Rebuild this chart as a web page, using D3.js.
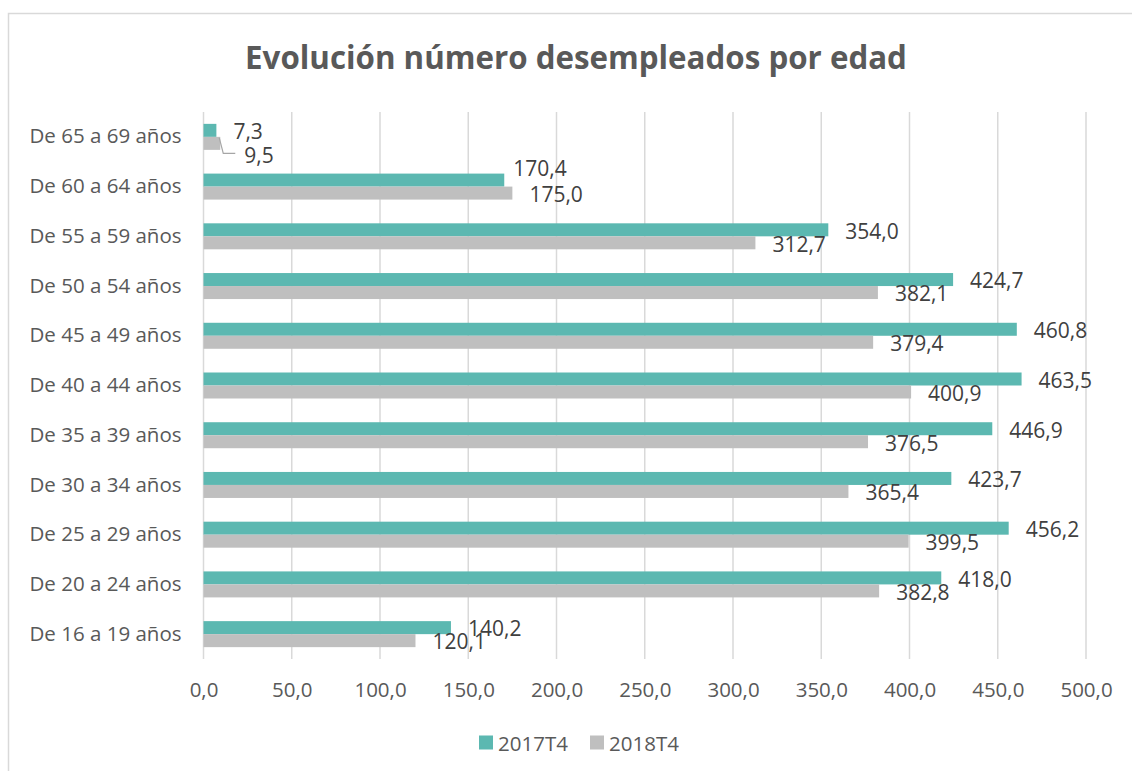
<!DOCTYPE html>
<html>
<head>
<meta charset="utf-8">
<script src="https://cdn.jsdelivr.net/npm/d3@7"></script>
<style>
  body { margin: 0; background: #fff; }
  text { font-family: "Open Sans", "Noto Sans", sans-serif; }
</style>
</head>
<body>
<svg id="drawing_region"></svg>
<script>
const categories = ["De 65 a 69 años", "De 60 a 64 años", "De 55 a 59 años", "De 50 a 54 años",
    "De 45 a 49 años", "De 40 a 44 años", "De 35 a 39 años", "De 30 a 34 años",
    "De 25 a 29 años", "De 20 a 24 años", "De 16 a 19 años"];
const series = ["2017T4", "2018T4"];
const values2017 = [7.3, 170.4, 354.0, 424.7, 460.8, 463.5, 446.9, 423.7, 456.2, 418.0, 140.2];
const values2018 = [9.5, 175.0, 312.7, 382.1, 379.4, 400.9, 376.5, 365.4, 399.5, 382.8, 120.1];
const xticks = [0, 50, 100, 150, 200, 250, 300, 350, 400, 450, 500];

const colors = { "2017T4": "#5cb8b1", "2018T4": "#bfbfbf" };
const fmt = v => d3.format(".1f")(v).replace(".", ",");

const data = categories.map((c, i) => ({ cat: c, v: { "2017T4": values2017[i], "2018T4": values2018[i] } }));

// a couple of labels were nudged by hand in the original to avoid overlaps
const labelNudge = {
    "De 60 a 64 años|2017T4": { dx: -8, dy: -13 },
    "De 65 a 69 años|2018T4": { dx: 7, dy: 11, leader: true }
};

const config = {
    width: 1132,
    height: 771,
    margin: { top: 112, right: 46, bottom: 112, left: 203.5 }
};

const svg = d3.select("#drawing_region")
    .attr("width", config.width)
    .attr("height", config.height);

// outer chart border
svg.append("rect")
    .attr("x", 8.5).attr("y", 13.5)
    .attr("width", 1140).attr("height", 800)
    .attr("fill", "none")
    .attr("stroke", "#d9d9d9")
    .attr("stroke-width", 1.5);

const inner_width = config.width - config.margin.left - config.margin.right;
const inner_height = config.height - config.margin.top - config.margin.bottom;

const chart = svg.append("g")
    .attr("transform", `translate(${config.margin.left}, ${config.margin.top})`);

svg.append("text")
    .attr("x", 576).attr("y", 69)
    .attr("text-anchor", "middle")
    .attr("font-size", "31.3px")
    .attr("font-weight", "bold")
    .attr("fill", "#595959")
    .text("Evolución número desempleados por edad");

const xscale = d3.scaleLinear().domain([0, 500]).range([0, 882.5]);
const yscale = d3.scaleBand().domain(categories).range([0, inner_height]);
const sub = d3.scaleBand().domain(series).range([yscale.bandwidth() / 2 - 13, yscale.bandwidth() / 2 + 13]);

// gridlines
chart.append("g").selectAll("line").data(xticks).enter().append("line")
    .attr("x1", d => xscale(d)).attr("x2", d => xscale(d))
    .attr("y1", 0).attr("y2", inner_height)
    .attr("stroke", "#d9d9d9").attr("stroke-width", 1.5);

const xaxis = d3.axisBottom(xscale).tickValues(xticks).tickFormat(fmt).tickSize(0).tickPadding(23);
chart.append("g")
    .attr("transform", `translate(0, ${inner_height})`)
    .call(xaxis)
    .call(g => g.select(".domain").remove())
    .selectAll("text")
    .attr("font-size", "20.5px")
    .attr("fill", "#595959");

const yaxis = d3.axisLeft(yscale).tickSize(0).tickPadding(22);
chart.append("g")
    .call(yaxis)
    .call(g => g.select(".domain").remove())
    .selectAll("text")
    .attr("font-size", "20.5px")
    .attr("fill", "#595959");

const groups = chart.selectAll(".grp").data(data).enter().append("g")
    .attr("transform", d => `translate(0, ${yscale(d.cat)})`);

series.forEach(s => {
    groups.append("rect")
        .attr("x", 0)
        .attr("y", sub(s))
        .attr("width", d => xscale(d.v[s]))
        .attr("height", sub.bandwidth())
        .attr("fill", colors[s]);
});

const nudge = (d, s) => labelNudge[d.cat + "|" + s] || { dx: 0, dy: 0 };

series.forEach(s => {
    groups.append("text")
        .attr("x", d => xscale(d.v[s]) + 17 + nudge(d, s).dx)
        .attr("y", d => sub(s) + sub.bandwidth() / 2 + 1.5 + nudge(d, s).dy)
        .attr("dy", "0.35em")
        .attr("font-size", "21px")
        .attr("fill", "#404040")
        .text(d => fmt(d.v[s]));
});

// leader line for the nudged small label
groups.filter(d => nudge(d, "2018T4").leader).append("path")
    .attr("d", d => {
        const x0 = xscale(d.v["2018T4"]);
        const y0 = sub("2018T4") + 1;
        const y1 = sub("2018T4") + sub.bandwidth() / 2 + 10;
        return `M${x0 - 1},${y0} L${x0 + 3},${y1} L${x0 + 15},${y1}`;
    })
    .attr("fill", "none")
    .attr("stroke", "#a6a6a6")
    .attr("stroke-width", 1.2);

// legend
const legend = svg.append("g").attr("transform", "translate(0, 742.5)");
const legendX = { "2017T4": 479, "2018T4": 590 };
series.forEach(s => {
    legend.append("rect")
        .attr("x", legendX[s]).attr("y", -7)
        .attr("width", 14).attr("height", 14)
        .attr("fill", colors[s]);
    legend.append("text")
        .attr("x", legendX[s] + 19).attr("y", 1)
        .attr("dy", "0.35em")
        .attr("font-size", "20.5px")
        .attr("fill", "#595959")
        .text(s);
});
</script>
</body>
</html>
